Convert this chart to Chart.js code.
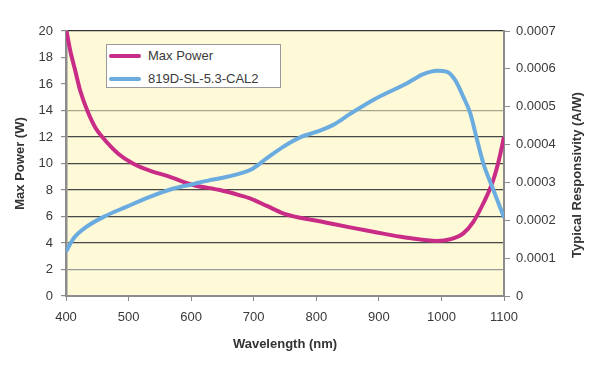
<!DOCTYPE html>
<html>
<head>
<meta charset="utf-8">
<script src="https://cdn.jsdelivr.net/npm/chart.js@4/dist/chart.umd.min.js"></script>
<style>
  html, body { margin: 0; padding: 0; background: #ffffff; }
  #wrap { position: relative; width: 600px; height: 365px; }
  #legend {
    position: absolute; left: 106px; top: 44px; width: 173px; height: 42px;
    background: #ffffff; border: 1px solid #9a9a9a;
    font: 13px "Liberation Sans", Arial, sans-serif; color: #3a3a3a;
  }
  .item { position: absolute; left: 0; height: 16px; line-height: 16px; }
  .swatch { position: absolute; left: 2px; top: 6px; width: 32px; height: 4px; border-radius: 2px; }
  .label { position: absolute; left: 41px; top: 0; white-space: nowrap; }
  #rtitle {
    position: absolute; left: 487px; top: 167px; width: 180px; height: 16px; line-height: 16px;
    text-align: center; transform: rotate(-90deg); transform-origin: 50% 50%;
    font: bold 13px "Liberation Sans", Arial, sans-serif; color: #333333; white-space: nowrap;
  }
</style>
</head>
<body>
<div id="wrap">
  <canvas id="c" width="600" height="365"></canvas>
  <div id="legend"></div>
  <div id="rtitle"></div>
</div>
<script>
// ---- data ----
const powerWavelengths = [400, 407, 415, 423, 434, 447, 458, 484, 507, 537, 564, 603, 646, 678, 694, 721, 747, 774, 801, 827, 854, 891, 945, 993, 1014, 1035, 1051, 1067, 1081, 1091, 1100];
const maxPower         = [20.2, 18.47, 16.96, 15.45, 14.0, 12.7, 12.0, 10.72, 10.0, 9.41, 9.03, 8.38, 8.0, 7.6, 7.37, 6.8, 6.24, 5.9, 5.68, 5.43, 5.18, 4.85, 4.4, 4.15, 4.28, 4.73, 5.6, 7.0, 8.5, 10.1, 12.0];

const respWavelengths  = [400, 412, 433, 460, 497, 534, 572, 604, 630, 646, 683, 699, 721, 747, 774, 801, 827, 854, 891, 945, 971, 993, 1009, 1022, 1035, 1046, 1057, 1067, 1081, 1100];
const responsivity     = [0.000117, 0.000152, 0.000183, 0.000209, 0.000236, 0.000262, 0.000284, 0.000296, 0.000306, 0.000311, 0.000326, 0.000337, 0.000364, 0.000394, 0.000419, 0.000434, 0.000452, 0.000481, 0.000518, 0.000562, 0.000586, 0.000595, 0.000592, 0.000570, 0.000526, 0.000483, 0.000412, 0.000350, 0.000289, 0.000207];

const seriesNames = ['Max Power', '819D-SL-5.3-CAL2'];
const xTitle = 'Wavelength (nm)';
const yTitle = 'Max Power (W)';
const y1Title = 'Typical Responsivity (A/W)';

const colors = ['#c92c86', '#6aace0'];
const FONT = '"Liberation Sans", Arial, sans-serif';

const toPoints = (xs, ys) => xs.map((x, i) => ({ x: x, y: ys[i] }));

// legend (HTML, inside the plot)
const legendEl = document.getElementById('legend');
seriesNames.forEach((name, i) => {
  const it = document.createElement('div');
  it.className = 'item';
  it.style.top = (i === 0 ? 3 : 26) + 'px';
  it.style.width = '170px';
  it.innerHTML = '<span class="swatch" style="background:' + colors[i] + '"></span><span class="label"></span>';
  it.querySelector('.label').textContent = name;
  legendEl.appendChild(it);
});
document.getElementById('rtitle').textContent = y1Title;

const bgPlugin = {
  id: 'plotBg',
  beforeDraw(chart) {
    const a = chart.chartArea, ctx = chart.ctx;
    ctx.save();
    ctx.fillStyle = '#fef9d7';
    ctx.fillRect(a.left, a.top, a.right - a.left, a.bottom - a.top);
    ctx.restore();
  }
};

function gridColor(ctx) {
  const v = ctx.tick ? ctx.tick.value : null;
  if (v === 20) return '#333333';
  if (v === 16 || v === 18 || v === 0) return 'rgba(0,0,0,0)';
  if (v === 14) return '#a9a58c';
  if (v === 2) return '#9a9a9a';
  return '#474747';
}

new Chart(document.getElementById('c'), {
  type: 'line',
  data: {
    datasets: [
      {
        label: seriesNames[0],
        data: toPoints(powerWavelengths, maxPower),
        yAxisID: 'y',
        borderColor: colors[0],
        borderWidth: 4,
        pointRadius: 0,
        cubicInterpolationMode: 'monotone',
        order: 1
      },
      {
        label: seriesNames[1],
        data: toPoints(respWavelengths, responsivity),
        yAxisID: 'y1',
        borderColor: colors[1],
        borderWidth: 4,
        pointRadius: 0,
        cubicInterpolationMode: 'monotone',
        order: 0
      }
    ]
  },
  options: {
    responsive: false,
    animation: false,
    devicePixelRatio: 1,
    layout: { padding: { top: 31, left: 0, right: 0, bottom: 0 } },
    plugins: { legend: { display: false }, tooltip: { enabled: false } },
    scales: {
      x: {
        type: 'linear', min: 400, max: 1100,
        afterFit(s) { s.height = 69; },
        ticks: { stepSize: 100, color: '#3a3a3a', padding: 9, font: { family: FONT, size: 13 }, maxRotation: 0,
                 callback: v => String(v) },
        grid: { drawOnChartArea: false, tickLength: 5, color: '#8c8c8c', lineWidth: 1 },
        border: { color: '#8c8c8c', width: 2 },
        title: { display: true, text: xTitle, color: '#333333', font: { family: FONT, size: 13, weight: 'bold' }, padding: { top: 0, bottom: 13 } }
      },
      y: {
        position: 'left', min: 0, max: 20,
        afterFit(s) { s.width = 66; },
        ticks: { stepSize: 2, color: '#3a3a3a', padding: 8, font: { family: FONT, size: 13 } },
        grid: { color: gridColor, tickColor: '#8c8c8c', tickLength: 5, lineWidth: 1.2 },
        border: { color: '#8c8c8c', width: 2.5 },
        title: { display: true, text: yTitle, color: '#333333', font: { family: FONT, size: 13, weight: 'bold' }, padding: { top: 13, bottom: 0 } }
      },
      y1: {
        position: 'right', min: 0, max: 0.0007,
        afterFit(s) { s.width = 96; },
        ticks: {
          stepSize: 0.0001, color: '#3a3a3a', padding: 6, font: { family: FONT, size: 13 },
          callback: v => (Math.abs(v) < 1e-12 ? '0' : Number(v).toFixed(4))
        },
        grid: { drawOnChartArea: false, tickLength: 6, color: '#8c8c8c' },
        border: { color: '#8c8c8c', width: 2 },
        title: { display: false }
      }
    }
  },
  plugins: [bgPlugin]
});
</script>
</body>
</html>
